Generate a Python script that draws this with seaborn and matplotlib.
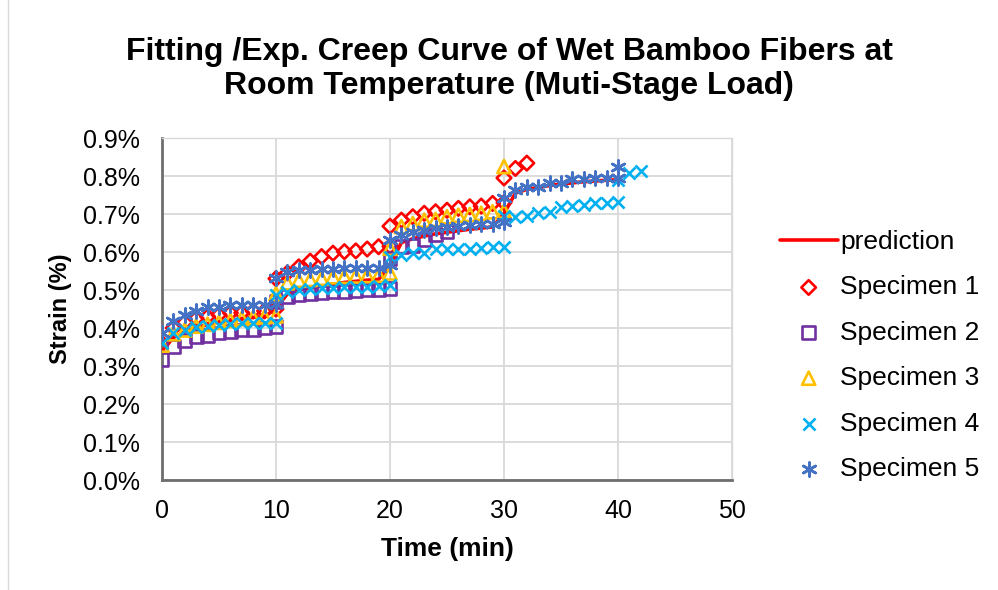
import matplotlib
matplotlib.use("Agg")
import matplotlib.pyplot as plt
import matplotlib.lines as mlines
import seaborn as sns

# time points (min) for each load stage
stage1 = list(range(0, 11))
stage2 = list(range(10, 21))
stage3 = list(range(20, 31))
stage4 = list(range(30, 41))

# prediction (strain, %)
pred_t = stage1 + stage2 + stage3 + stage4
pred_s = [0.34, 0.375, 0.39, 0.40, 0.41, 0.415, 0.42, 0.425, 0.428, 0.43, 0.433,
          0.47, 0.49, 0.50, 0.505, 0.51, 0.515, 0.52, 0.523, 0.526, 0.528, 0.53,
          0.60, 0.625, 0.635, 0.642, 0.648, 0.652, 0.656, 0.66, 0.663, 0.666, 0.668,
          0.735, 0.755, 0.765, 0.77, 0.775, 0.779, 0.782, 0.785, 0.787, 0.789, 0.79]

# Specimen 1
s1_t = stage1 + stage2 + stage3 + [30, 31, 32]
s1_s = [0.36, 0.40, 0.415, 0.425, 0.43, 0.435, 0.44, 0.44, 0.445, 0.445, 0.45,
        0.53, 0.545, 0.561, 0.576, 0.588, 0.597, 0.601, 0.603, 0.608, 0.614, 0.615,
        0.668, 0.684, 0.693, 0.702, 0.706, 0.71, 0.715, 0.719, 0.721, 0.728, 0.73,
        0.795, 0.82, 0.834]

# Specimen 2
s2_t = stage1 + stage2 + [20, 21, 22, 23, 24, 25]
s2_s = [0.318, 0.351, 0.368, 0.377, 0.38, 0.387, 0.39, 0.395, 0.397, 0.40, 0.405,
        0.47, 0.482, 0.487, 0.49, 0.493, 0.495, 0.497, 0.499, 0.50, 0.502, 0.505,
        0.584, 0.614, 0.618, 0.632, 0.645, 0.655]

# Specimen 3
s3_t = stage1 + stage2 + stage3 + [30]
s3_s = [0.355, 0.385, 0.395, 0.405, 0.41, 0.415, 0.42, 0.425, 0.428, 0.43, 0.432,
        0.49, 0.519, 0.526, 0.528, 0.531, 0.535, 0.536, 0.537, 0.538, 0.539, 0.545,
        0.61, 0.667, 0.675, 0.684, 0.686, 0.693, 0.697, 0.699, 0.702, 0.706, 0.708,
        0.825]

# Specimen 4
s4_t = stage1 + stage2 + stage3 + stage4 + [40, 41, 42]
s4_s = [0.36, 0.387, 0.395, 0.403, 0.405, 0.408, 0.41, 0.412, 0.412, 0.413, 0.413,
        0.487, 0.496, 0.5, 0.502, 0.505, 0.505, 0.507, 0.509, 0.509, 0.51, 0.513,
        0.588, 0.592, 0.597, 0.598, 0.607, 0.607, 0.608, 0.609, 0.611, 0.612, 0.614,
        0.695, 0.693, 0.696, 0.702, 0.706, 0.719, 0.72, 0.724, 0.728, 0.729, 0.732,
        0.789, 0.807, 0.814]

# Specimen 5
s5_t = stage1 + stage2 + stage3 + stage4 + [40]
s5_s = [0.387, 0.419, 0.434, 0.446, 0.455, 0.455, 0.461, 0.461, 0.461, 0.461, 0.462,
        0.532, 0.548, 0.553, 0.553, 0.555, 0.556, 0.557, 0.557, 0.558, 0.558, 0.566,
        0.632, 0.645, 0.653, 0.658, 0.663, 0.667, 0.668, 0.671, 0.674, 0.674, 0.68,
        0.742, 0.763, 0.772, 0.772, 0.781, 0.781, 0.791, 0.791, 0.794, 0.794, 0.794,
        0.824]

x_ticks = [0, 10, 20, 30, 40, 50]
y_ticks = [0.0, 0.1, 0.2, 0.3, 0.4, 0.5, 0.6, 0.7, 0.8, 0.9]

sns.set_style("white")
plt.rcParams['font.family'] = ['Liberation Sans', 'DejaVu Sans']
plt.rcParams['text.color'] = 'black'
plt.rcParams['axes.labelcolor'] = 'black'
plt.rcParams['xtick.color'] = 'black'
plt.rcParams['ytick.color'] = 'black'

fig = plt.figure(figsize=(9.98, 5.90), dpi=100)
ax = fig.add_axes([0.1623, 0.1864, 0.5712, 0.5796])

# ----------------------------
# SERIES
# ----------------------------

sns.lineplot(x=pred_t, y=pred_s, ax=ax, color='#FF0000', linewidth=2.6,
             sort=False, label='prediction', zorder=2)

sns.scatterplot(x=s1_t, y=s1_s, ax=ax, marker='D', s=55, facecolor='none',
                edgecolor='#FF0000', linewidth=1.9, label='Specimen 1', zorder=3)
sns.scatterplot(x=s2_t, y=s2_s, ax=ax, marker='s', s=85, facecolor='none',
                edgecolor='#7030A0', linewidth=1.9, label='Specimen 2', zorder=3)
sns.scatterplot(x=s3_t, y=s3_s, ax=ax, marker='^', s=90, facecolor='none',
                edgecolor='#FFC000', linewidth=1.9, label='Specimen 3', zorder=3)
sns.scatterplot(x=s4_t, y=s4_s, ax=ax, marker='x', s=75, color='#00B0F0',
                linewidth=1.9, label='Specimen 4', zorder=3)
sns.scatterplot(x=s5_t, y=s5_s, ax=ax, marker=(6, 2, 0), s=100, color='#4472C4',
                linewidth=1.9, label='Specimen 5', zorder=3)

# ----------------------------
# AXES
# ----------------------------

ax.set_xlim(0, 50)
ax.set_ylim(0, 0.9)
ax.set_xticks(x_ticks)
ax.set_yticks(y_ticks)
ax.set_xticklabels([str(v) for v in x_ticks], fontsize=18)
ax.set_yticklabels([f"{v:.1f}%" for v in y_ticks], fontsize=18)
ax.tick_params(axis='x', length=0, pad=14)
ax.tick_params(axis='y', length=0, pad=16)
ax.grid(True, color='#D9D9D9', linewidth=1.3)
ax.set_axisbelow(True)
for side in ['top', 'right']:
    ax.spines[side].set_color('#D9D9D9')
    ax.spines[side].set_linewidth(1.0)
for side in ['left', 'bottom']:
    ax.spines[side].set_color('#6E6E6E')
    ax.spines[side].set_linewidth(2.0)

ax.set_xlabel('Time (min)', fontsize=19, fontweight='bold', labelpad=10)
ax.set_ylabel('Strain (%)', fontsize=17, fontweight='bold', labelpad=8)

fig.text(0.51, 0.883,
         'Fitting /Exp. Creep Curve of Wet Bamboo Fibers at\nRoom Temperature (Muti-Stage Load)',
         fontsize=23, fontweight='bold', ha='center', va='center', linespacing=1.17)

leg = ax.legend(loc='upper left', bbox_to_anchor=(1.065, 0.762), frameon=False,
                fontsize=19, handlelength=2.2, handletextpad=0.1,
                labelspacing=0.81, borderaxespad=0)

# faint chart border on the left
fig.add_artist(mlines.Line2D([0.008, 0.008], [0.0, 1.0], color='#D9D9D9', linewidth=1))

fig.savefig('out.png', dpi=100)
